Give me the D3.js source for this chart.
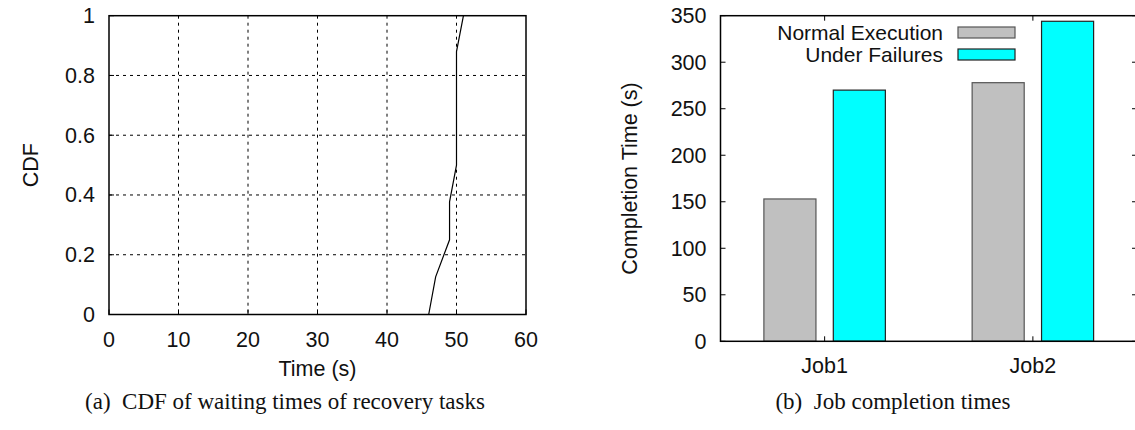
<!DOCTYPE html>
<html>
<head>
<meta charset="utf-8">
<script src="https://cdn.jsdelivr.net/npm/d3@7"></script>
<style>
  html, body { margin: 0; padding: 0; background: #fff; }
  svg { display: block; }
  .tick-label { font-family: "Liberation Sans", Arial, sans-serif; font-size: 21.5px; fill: #111; }
  .axis-title { font-family: "Liberation Sans", Arial, sans-serif; font-size: 21.5px; fill: #111; }
  .legend-label { font-family: "Liberation Sans", Arial, sans-serif; font-size: 21px; fill: #111; }
  .caption { font-family: "Liberation Serif", "Times New Roman", serif; font-size: 23px; fill: #111; }
</style>
</head>
<body>
<svg id="chart" width="1135" height="430"></svg>
<script>
// ---- Data (a): CDF of waiting times of recovery tasks ----
const cdfTimes  = [46, 47, 49, 49, 50, 50, 51];
const cdfValues = [0, 0.126, 0.25, 0.377, 0.5, 0.88, 1];
const cdfXTicks = [0, 10, 20, 30, 40, 50, 60];
const cdfYTicks = [0, 0.2, 0.4, 0.6, 0.8, 1];
const cdfYTickLabels = ["0", "0.2", "0.4", "0.6", "0.8", "1"];

// ---- Data (b): Job completion times ----
const jobs = ["Job1", "Job2"];
const seriesNames = ["Normal Execution", "Under Failures"];
const normalExecution = [153, 278];
const underFailures = [270, 344];
const timeTicks = [0, 50, 100, 150, 200, 250, 300, 350];

const colors = ["#c0c0c0", "#00ffff"];
const strokes = ["#555555", "#222222"];

const svg = d3.select("#chart");

// ================= Chart (a) =================
const A = { left: 109, right: 526, top: 15.7, bottom: 314.5 };
const xA = d3.scaleLinear().domain([0, 60]).range([A.left, A.right]);
const yA = d3.scaleLinear().domain([0, 1]).range([A.bottom, A.top]);

const gA = svg.append("g");
// grid
gA.selectAll(".vgrid").data(cdfXTicks.filter(d => d > 0 && d < 60)).enter()
  .append("line")
  .attr("x1", d => xA(d)).attr("x2", d => xA(d))
  .attr("y1", A.top).attr("y2", A.bottom)
  .attr("stroke", "#000").attr("stroke-width", 1).attr("stroke-dasharray", "3,4");
gA.selectAll(".hgrid").data(cdfYTicks.filter(d => d > 0 && d < 1)).enter()
  .append("line")
  .attr("x1", A.left).attr("x2", A.right)
  .attr("y1", d => yA(d)).attr("y2", d => yA(d))
  .attr("stroke", "#000").attr("stroke-width", 1).attr("stroke-dasharray", "3,4");
// ticks (inward)
gA.selectAll(".xt").data(cdfXTicks).enter().append("line")
  .attr("x1", d => xA(d)).attr("x2", d => xA(d))
  .attr("y1", A.bottom).attr("y2", A.bottom - 5)
  .attr("stroke", "#000").attr("stroke-width", 1);
gA.selectAll(".yt").data(cdfYTicks).enter().append("line")
  .attr("x1", A.left).attr("x2", A.left + 5)
  .attr("y1", d => yA(d)).attr("y2", d => yA(d))
  .attr("stroke", "#000").attr("stroke-width", 1);
// frame
gA.append("rect").attr("x", A.left).attr("y", A.top)
  .attr("width", A.right - A.left).attr("height", A.bottom - A.top)
  .attr("fill", "none").attr("stroke", "#000").attr("stroke-width", 1.5);
// tick labels
gA.selectAll(".xl").data(cdfXTicks).enter().append("text")
  .attr("class", "tick-label")
  .attr("x", d => xA(d)).attr("y", A.bottom + 32)
  .attr("text-anchor", "middle").text(d => d);
gA.selectAll(".yl").data(cdfYTicks).enter().append("text")
  .attr("class", "tick-label")
  .attr("x", A.left - 14).attr("y", d => yA(d) + 7.5)
  .attr("text-anchor", "end").text((d, i) => cdfYTickLabels[i]);
// titles
gA.append("text").attr("class", "axis-title")
  .attr("x", (A.left + A.right) / 2).attr("y", 376)
  .attr("text-anchor", "middle").text("Time (s)");
gA.append("text").attr("class", "axis-title")
  .attr("transform", `translate(38,${(A.top + A.bottom) / 2}) rotate(-90)`)
  .attr("text-anchor", "middle").text("CDF");
// line
const cdfPts = cdfTimes.map((t, i) => [t, cdfValues[i]]);
gA.append("path").datum(cdfPts)
  .attr("d", d3.line().x(d => xA(d[0])).y(d => yA(d[1])))
  .attr("fill", "none").attr("stroke", "#000").attr("stroke-width", 1.2);
// caption
gA.append("text").attr("class", "caption")
  .attr("x", 285).attr("y", 409).attr("text-anchor", "middle")
  .text("(a)\u2002CDF of waiting times of recovery tasks");

// ================= Chart (b) =================
const B = { left: 720.5, right: 1137, top: 15.7, bottom: 341.3 };
const xB = d3.scaleLinear().domain([-0.5, jobs.length - 0.5]).range([B.left, B.right]);
const yB = d3.scaleLinear().domain([0, 350]).range([B.bottom, B.top]);
const barW = 0.25;
const offsets = [-1 / 6, 1 / 6];
const series = [normalExecution, underFailures];

const gB = svg.append("g");
// bars
series.forEach((vals, s) => {
  gB.selectAll(".bar" + s).data(vals).enter().append("rect")
    .attr("x", (d, i) => xB(i + offsets[s] - barW / 2))
    .attr("width", xB(barW) - xB(0))
    .attr("y", d => yB(d))
    .attr("height", d => yB(0) - yB(d))
    .attr("fill", colors[s]).attr("stroke", strokes[s]).attr("stroke-width", 1.2);
});
// y ticks (left + mirrored right)
gB.selectAll(".ytl").data(timeTicks).enter().append("line")
  .attr("x1", B.left).attr("x2", B.left + 5)
  .attr("y1", d => yB(d)).attr("y2", d => yB(d))
  .attr("stroke", "#000").attr("stroke-width", 1);
gB.selectAll(".ytr").data(timeTicks).enter().append("line")
  .attr("x1", B.right).attr("x2", B.right - 5)
  .attr("y1", d => yB(d)).attr("y2", d => yB(d))
  .attr("stroke", "#000").attr("stroke-width", 1);
// x ticks (bottom + top)
gB.selectAll(".xtb").data(jobs).enter().append("line")
  .attr("x1", (d, i) => xB(i)).attr("x2", (d, i) => xB(i))
  .attr("y1", B.bottom).attr("y2", B.bottom - 5)
  .attr("stroke", "#000").attr("stroke-width", 1);
gB.selectAll(".xtt").data(jobs).enter().append("line")
  .attr("x1", (d, i) => xB(i)).attr("x2", (d, i) => xB(i))
  .attr("y1", B.top).attr("y2", B.top + 5)
  .attr("stroke", "#000").attr("stroke-width", 1);
// frame
gB.append("rect").attr("x", B.left).attr("y", B.top)
  .attr("width", B.right - B.left).attr("height", B.bottom - B.top)
  .attr("fill", "none").attr("stroke", "#000").attr("stroke-width", 1.5);
// labels
gB.selectAll(".yl").data(timeTicks).enter().append("text")
  .attr("class", "tick-label")
  .attr("x", B.left - 14).attr("y", d => yB(d) + 7.5)
  .attr("text-anchor", "end").text(d => d);
gB.selectAll(".xl").data(jobs).enter().append("text")
  .attr("class", "tick-label")
  .attr("x", (d, i) => xB(i)).attr("y", B.bottom + 32)
  .attr("text-anchor", "middle").text(d => d);
gB.append("text").attr("class", "axis-title")
  .attr("transform", `translate(637,${(B.top + B.bottom) / 2}) rotate(-90)`)
  .attr("text-anchor", "middle").text("Completion Time (s)");
// legend
seriesNames.forEach((name, s) => {
  const cy = 32.5 + s * 22;
  gB.append("text").attr("class", "legend-label")
    .attr("x", 943).attr("y", cy + 7.5).attr("text-anchor", "end").text(name);
  gB.append("rect").attr("x", 958).attr("y", cy - 5.5)
    .attr("width", 57).attr("height", 11)
    .attr("fill", colors[s]).attr("stroke", strokes[s]).attr("stroke-width", 1.2);
});
// caption
gB.append("text").attr("class", "caption")
  .attr("x", 893).attr("y", 409).attr("text-anchor", "middle")
  .text("(b)\u2002Job completion times");
</script>
</body>
</html>
